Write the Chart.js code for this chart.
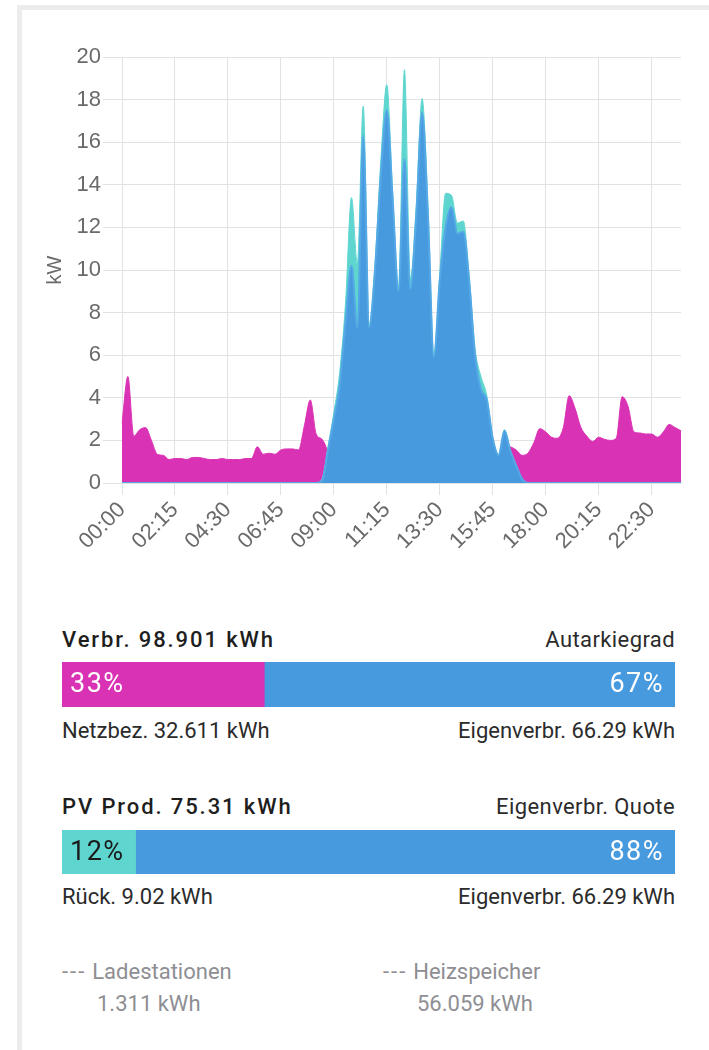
<!DOCTYPE html>
<html>
<head>
<meta charset="utf-8">
<script src="https://cdn.jsdelivr.net/npm/chart.js@4.4.1/dist/chart.umd.min.js"></script>
<style>
  html, body { margin: 0; padding: 0; background: #fff; }
  body { width: 709px; height: 1050px; position: relative; overflow: hidden; font-family: Roboto, "Liberation Sans", sans-serif; }
  .card { position: absolute; left: 17px; top: 5px; width: 720px; height: 1100px; border: 5px solid #ececec; box-sizing: border-box; }
  .chart-box { position: absolute; left: 30px; top: 40px; width: 665px; height: 540px; }
  .bar-box { position: absolute; left: 62px; width: 613px; }
  .row { position: absolute; left: 62px; width: 613px; height: 26px; line-height: 26px; font-size: 22px; color: #2b2b2b; }
  .row .l { position: absolute; left: 0; }
  .row .r { position: absolute; right: 0; }
  .head .l { font-weight: 500; letter-spacing: 1.9px; color: #1e1e1e; }
  .head .r { letter-spacing: 0.4px; }
  .legend { position: absolute; font-size: 22px; color: #8e8e93; line-height: 26px; }
  .legend .dash { letter-spacing: 2px; margin-right: 6px; }
</style>
</head>
<body>
<div class="card"></div>
<div class="chart-box"><canvas id="power"></canvas></div>

<div class="row head" style="top:627px"><span class="l">Verbr. 98.901 kWh</span><span class="r">Autarkiegrad</span></div>
<div class="bar-box" style="top:662px;height:45px"><canvas id="autarky"></canvas></div>
<div class="row" style="top:718px"><span class="l">Netzbez. 32.611 kWh</span><span class="r">Eigenverbr. 66.29 kWh</span></div>

<div class="row head" style="top:794px"><span class="l">PV Prod. 75.31 kWh</span><span class="r">Eigenverbr. Quote</span></div>
<div class="bar-box" style="top:830px;height:44px"><canvas id="quote"></canvas></div>
<div class="row" style="top:884px"><span class="l">Rück. 9.02 kWh</span><span class="r">Eigenverbr. 66.29 kWh</span></div>

<div class="legend" style="left:62px;top:959px"><span class="dash">---</span>Ladestationen</div>
<div class="legend" style="left:97px;top:991px">1.311 kWh</div>
<div class="legend" style="left:383px;top:959px"><span class="dash">---</span>Heizspeicher</div>
<div class="legend" style="left:417px;top:991px">56.059 kWh</div>

<script>
// 15 minute slots over the day
const timeLabels = [
  '00:00','00:15','00:30','00:45','01:00','01:15','01:30','01:45','02:00','02:15','02:30','02:45',
  '03:00','03:15','03:30','03:45','04:00','04:15','04:30','04:45','05:00','05:15','05:30','05:45',
  '06:00','06:15','06:30','06:45','07:00','07:15','07:30','07:45','08:00','08:15','08:30','08:45',
  '09:00','09:15','09:30','09:45','10:00','10:15','10:30','10:45','11:00','11:15','11:30','11:45',
  '12:00','12:15','12:30','12:45','13:00','13:15','13:30','13:45','14:00','14:15','14:30','14:45',
  '15:00','15:15','15:30','15:45','16:00','16:15','16:30','16:45','17:00','17:15','17:30','17:45',
  '18:00','18:15','18:30','18:45','19:00','19:15','19:30','19:45','20:00','20:15','20:30','20:45',
  '21:00','21:15','21:30','21:45','22:00','22:15','22:30','22:45','23:00','23:15','23:30','23:45'
];

// Netzbezug (kW)
const gridImport = [
  2.8, 5.0, 2.2, 2.5, 2.6, 2.0, 1.35, 1.3, 1.1, 1.15, 1.15, 1.1,
  1.2, 1.2, 1.15, 1.1, 1.1, 1.15, 1.1, 1.1, 1.1, 1.15, 1.15, 1.7,
  1.35, 1.4, 1.35, 1.55, 1.6, 1.6, 1.55, 2.7, 3.9, 2.3, 2.05, 1.4,
  0, 0, 0, 0, 0, 0, 0, 0, 0, 0, 0, 0,
  0, 0, 0, 0, 0, 0, 0, 0, 0, 0, 0, 0,
  0, 0, 0, 0, 1.0, 1.8, 1.7, 1.55, 1.3, 1.4, 1.9, 2.55,
  2.4, 2.15, 2.1, 2.6, 4.1, 3.5, 2.6, 2.2, 1.95, 2.15, 2.05, 2.0,
  2.1, 4.05, 3.6, 2.4, 2.35, 2.3, 2.3, 2.15, 2.4, 2.75, 2.6, 2.45
];

// PV Produktion (kW)
const pvProduction = [
  0, 0, 0, 0, 0, 0, 0, 0, 0, 0, 0, 0,
  0, 0, 0, 0, 0, 0, 0, 0, 0, 0, 0, 0,
  0, 0, 0, 0, 0, 0, 0, 0, 0, 0, 0.2, 1.7,
  3.3, 5.2, 8.5, 13.4, 10.3, 17.7, 7.4, 10.3, 15.2, 18.7, 13.6, 9.2,
  19.4, 9.6, 13.0, 18.05, 13.0, 6.0, 9.8, 13.6, 13.5, 12.2, 12.3, 9.7,
  6.3, 5.0, 4.1, 2.15, 1.35, 2.5, 1.55, 0.85, 0.2, 0, 0, 0,
  0, 0, 0, 0, 0, 0, 0, 0, 0, 0, 0, 0,
  0, 0, 0, 0, 0, 0, 0, 0, 0, 0, 0, 0
];

// Eigenverbrauch (kW)
const selfConsumption = [
  0, 0, 0, 0, 0, 0, 0, 0, 0, 0, 0, 0,
  0, 0, 0, 0, 0, 0, 0, 0, 0, 0, 0, 0,
  0, 0, 0, 0, 0, 0, 0, 0, 0, 0, 0.1, 1.5,
  3.0, 4.6, 7.6, 10.2, 7.3, 16.3, 7.3, 10.0, 14.5, 17.5, 13.3, 9.0,
  15.2, 9.1, 12.5, 17.4, 12.5, 5.9, 9.5, 12.0, 12.95, 11.7, 11.8, 9.5,
  6.0, 4.4, 3.9, 2.1, 1.3, 2.45, 1.5, 0.8, 0.2, 0, 0, 0,
  0, 0, 0, 0, 0, 0, 0, 0, 0, 0, 0, 0,
  0, 0, 0, 0, 0, 0, 0, 0, 0, 0, 0, 0
];

const autarkyShares = [33, 67];   // Netzbezug / Eigenverbrauch in %
const quoteShares = [12, 88];     // Rückspeisung / Eigenverbrauch in %

const MAGENTA = '#da32b4';
const BLUE = '#489ade';
const TEAL = '#5ed6cf';
const GRID = '#e2e2e2';
const TICK_FONT = { family: '"Liberation Sans", Arial, sans-serif', size: 22 };

new Chart(document.getElementById('power'), {
  type: 'line',
  data: {
    labels: timeLabels,
    datasets: [
      { label: 'Eigenverbrauch', data: selfConsumption, backgroundColor: BLUE, borderColor: '#55a8e6', borderWidth: 2, fill: 'origin' },
      { label: 'PV', data: pvProduction, backgroundColor: TEAL, borderColor: TEAL, borderWidth: 1, fill: 'origin' },
      { label: 'Netzbezug', data: gridImport, backgroundColor: MAGENTA, borderColor: MAGENTA, borderWidth: 1, fill: 'origin' }
    ]
  },
  options: {
    responsive: true,
    maintainAspectRatio: false,
    animation: false,
    layout: { padding: { top: 17, right: 14, left: 0, bottom: 0 } },
    elements: { point: { radius: 0 }, line: { cubicInterpolationMode: 'monotone' } },
    plugins: { legend: { display: false }, tooltip: { enabled: false } },
    scales: {
      x: {
        grid: { color: GRID, tickLength: 12 },
        border: { color: GRID },
        ticks: {
          autoSkip: false,
          maxRotation: 45,
          minRotation: 45,
          padding: 2,
          color: '#6a6a6a',
          font: TICK_FONT,
          callback: function (val, idx) {
            return idx % 9 === 0 ? this.getLabelForValue(val) : null;
          }
        },
        afterFit: function (scale) { scale.height = 97; }
      },
      y: {
        min: 0,
        max: 20,
        ticks: { stepSize: 2, padding: 2, color: '#6a6a6a', font: TICK_FONT },
        grid: { color: GRID, tickLength: 19 },
        border: { color: GRID },
        title: { display: true, text: 'kW', color: '#6a6a6a', font: { family: TICK_FONT.family, size: 20 }, padding: { top: 13, bottom: 0 } },
        afterFit: function (scale) { scale.width = 92; }
      }
    }
  }
});

// Prozentwerte in die Balken schreiben
const shareLabels = {
  id: 'shareLabels',
  afterDatasetsDraw(chart, args, opts) {
    const ctx = chart.ctx;
    ctx.save();
    ctx.font = '400 27px Roboto, "Liberation Sans", sans-serif';
    ctx.letterSpacing = '1.5px';
    ctx.textBaseline = 'middle';
    chart.data.datasets.forEach((ds, i) => {
      const bar = chart.getDatasetMeta(i).data[0];
      ctx.fillStyle = opts.colors[i];
      if (i === 0) {
        ctx.textAlign = 'left';
        ctx.fillText(ds.data[0] + '%', bar.base + 8, bar.y + 1);
      } else {
        ctx.textAlign = 'right';
        ctx.fillText(ds.data[0] + '%', bar.x - 11, bar.y + 1);
      }
    });
    ctx.restore();
  }
};

function shareBar(id, shares, colors, textColors) {
  new Chart(document.getElementById(id), {
    type: 'bar',
    data: {
      labels: [''],
      datasets: shares.map((v, i) => ({ data: [v], backgroundColor: colors[i], borderWidth: 0, barPercentage: 1, categoryPercentage: 1 }))
    },
    options: {
      indexAxis: 'y',
      responsive: true,
      maintainAspectRatio: false,
      animation: false,
      layout: { padding: 0 },
      plugins: { legend: { display: false }, tooltip: { enabled: false }, shareLabels: { colors: textColors } },
      scales: {
        x: { display: false, stacked: true, min: 0, max: 100 },
        y: { display: false, stacked: true }
      }
    },
    plugins: [shareLabels]
  });
}

shareBar('autarky', autarkyShares, [MAGENTA, BLUE], ['#ffffff', '#ffffff']);
shareBar('quote', quoteShares, [TEAL, BLUE], ['#1a1a1a', '#ffffff']);
</script>
</body>
</html>
